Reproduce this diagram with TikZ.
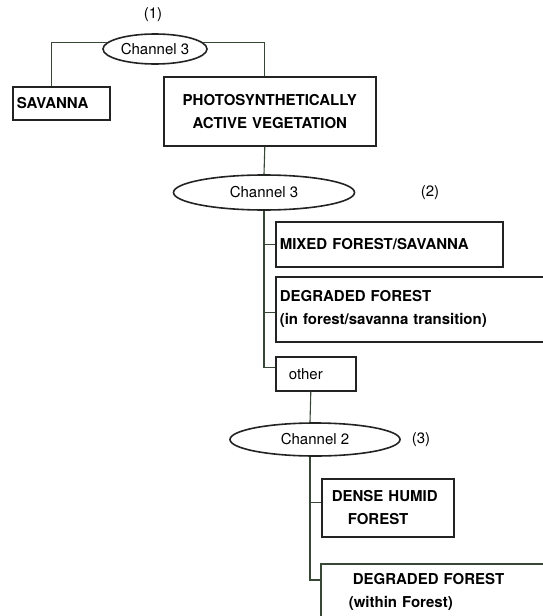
\documentclass[tikz,border=0pt]{standalone}
\usepackage{fontspec}
\setmainfont{TeX Gyre Heros}
\usepackage{tikz}
\usetikzlibrary{positioning,shapes}

\definecolor{linegreen}{RGB}{55,72,55}
\definecolor{boxdark}{RGB}{35,35,35}

\begin{document}
\begin{tikzpicture}[x=1pt, y=-1pt,
   every node/.style={font=\fontsize{15}{22}\selectfont},
   chan/.style={ellipse, draw=boxdark, line width=1.6pt, inner sep=0pt},
   cls/.style={rectangle, draw=boxdark, line width=1.6pt, anchor=north west,
     font=\fontsize{15}{23}\selectfont\bfseries, align=left, inner ysep=0pt},
   link/.style={draw=linegreen, line width=1.1pt}]
   \useasboundingbox (0,0) rectangle (543,616);
   \clip (0,0) rectangle (543,616);

   % level (1)
   \node (n1) at (153,15) {(1)};
   \node[chan, minimum width=104pt, minimum height=30pt] (ch1) at (155,49) {Channel 3};
   \node[cls, inner xsep=4pt, text width=89pt, minimum height=33pt] (sav) at (12,86) {SAVANNA};
   \node[cls, inner xsep=4pt, text width=204pt, minimum height=69pt, align=center] (pav) at (163,76)
     {PHOTOSYNTHETICALLY\\ACTIVE VEGETATION};

   % level (2)
   \node[chan, minimum width=181pt, minimum height=35pt] (ch2) at (264,192.5) {Channel 3};
   \node (n2) at (430,193) {(2)};
   \node[cls, inner xsep=4pt, text width=219pt, minimum height=45pt] (mix) at (275,221)
     {MIXED FOREST/SAVANNA};
   \node[cls, inner xsep=4pt, text width=282pt, minimum height=65pt] (deg) at (275,276)
     {DEGRADED FOREST\\(in forest/savanna transition)};
   \node[cls, font=\fontsize{15}{22}\selectfont, inner xsep=13pt, text width=54pt, minimum height=34pt] (oth) at (275,356) {other};

   % level (3)
   \node[chan, minimum width=170pt, minimum height=33pt] (ch3) at (315,439.5) {Channel 2};
   \node (n3) at (421,440) {(3)};
   \node[cls, inner xsep=10pt, text width=112pt, minimum height=58pt] (dhf) at (321,478)
     {DENSE HUMID\\\hspace*{16pt}FOREST};
   \node[cls, draw=linegreen, inner xsep=32pt, text width=200pt, minimum height=56pt] (dwf) at (320,563)
     {DEGRADED FOREST\\\hspace*{-4pt}(within Forest)};

   \draw[link] (ch1.172) -| ([xshift=-10pt]sav.north);
   \draw[link] (ch1.8) -| ([xshift=-5pt]pav.north);
   \draw[link] ([xshift=-5pt]pav.south) -- (ch2.north);
   \draw[link] (ch2.south) |- (mix.west);
   \draw[link] (ch2.south) |- ([yshift=-3pt]deg.west);
   \draw[link] (ch2.south) |- ([yshift=6pt]oth.west);
   \draw[link] ([xshift=-5pt]oth.south) -- ([xshift=-5pt]ch3.north);
   \draw[link] ([xshift=-5pt]ch3.south) |- ([yshift=5pt]dhf.west);
   \draw[link] ([xshift=-5pt]ch3.south) |- ([yshift=-17pt]dwf.north west);
\end{tikzpicture}
\end{document}
